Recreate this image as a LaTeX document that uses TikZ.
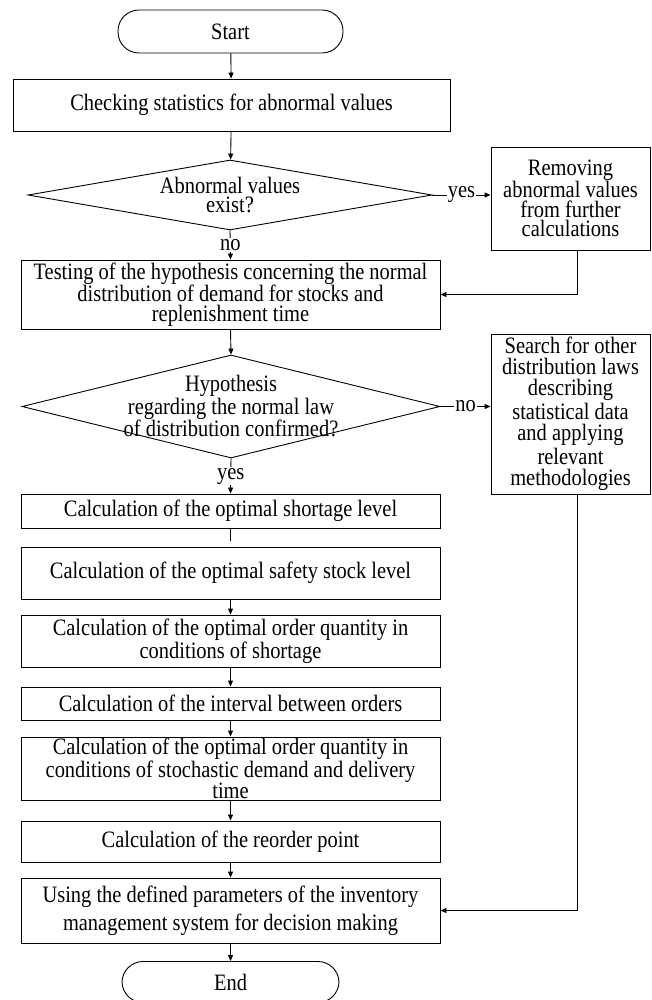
\documentclass[tikz,border=0pt]{standalone}
\usepackage{fontspec}
\setmainfont{Liberation Serif}[FakeStretch=0.87]
\usetikzlibrary{shapes.geometric,arrows.meta}
\begin{document}
\begin{tikzpicture}[x=1pt,y=-1pt,
  every node/.style={font=\fontsize{23.5}{19.5}\selectfont},
  box/.style={draw,line width=0.9pt,rectangle,inner sep=0pt,align=center,minimum width=419pt},
  term/.style={draw,line width=0.9pt,rectangle,rounded corners=21pt,minimum width=225pt,minimum height=43pt,inner sep=0pt},
  dec/.style={draw,line width=0.9pt,diamond,inner sep=0pt},
  txt/.style={align=center,inner sep=0pt},
  lbl/.style={fill=white,inner sep=1pt},
  conn/.style={line width=0.9pt},
  arr/.style={conn,-{Triangle[length=6pt,width=5pt]}}
]
\useasboundingbox (0,0) rectangle (651,1000);

\node[term] (start) at (230.5,31.5) {Start};
\node[box,minimum width=437pt,minimum height=52pt] (check) at (231.5,105) {Checking statistics for abnormal values};
\node[dec,minimum width=404pt,minimum height=70pt] (d1) at (230,195) {};
\node[txt] (d1t) at (d1) {Abnormal values\\exist?};
\node[box,minimum width=159pt,minimum height=103pt] (rem) at (570.5,198.5) {Removing\\abnormal values\\from further\\calculations};
\node[box,minimum height=69pt] (test) at (230.5,294.5) {Testing of the hypothesis concerning the normal\\distribution of demand for stocks and\\replenishment time};
\node[dec,minimum width=418pt,minimum height=103pt] (d2) at (231,406.5) {};
\node[txt] (d2t) at (d2) {Hypothesis\\regarding the normal law\\of distribution confirmed?};
\node[box,minimum width=159pt,minimum height=160pt] (search) at (570.5,414) {Search for other\\[1.5pt]distribution laws\\[1.5pt]describing\\[1.5pt]statistical data\\[1.5pt]and applying\\[1.5pt]relevant\\[1.5pt]methodologies};
\node[box,minimum height=34pt] (short) at (230.5,511) {Calculation of the optimal shortage level};
\coordinate (gap) at (230.5,541);
\node[box,minimum height=52pt] (safe) at (230.5,573) {Calculation of the optimal safety stock level};
\node[box,minimum height=52pt] (order) at (230.5,641) {Calculation of the optimal order quantity in\\conditions of shortage};
\node[box,minimum height=33pt] (int) at (230.5,703.5) {Calculation of the interval between orders};
\node[box,minimum height=63pt] (stoch) at (230.5,768.5) {Calculation of the optimal order quantity in\\conditions of stochastic demand and delivery\\time};
\node[box,minimum height=41pt] (reord) at (230.5,841.5) {Calculation of the reorder point};
\node[box,minimum height=65pt] (use) at (230.5,910.5) {Using the defined parameters of the inventory\\[5pt]management system for decision making};
\node[term,minimum width=217pt,minimum height=41pt] (end) at (230.5,982) {End};

\draw[arr] (start) -- (check);
\draw[arr] (check) -- (d1);
\draw[arr] (d1.east) -- node[lbl]{yes} (d1.east -| rem.west);
\draw[arr] (d1.south) -- node[lbl]{no} (test.north);
\draw[arr] ([xshift=6.5pt]rem.south) |- (test.east);
\draw[arr] (test.south) -- (d2.north);
\draw[arr] (d2.east) -- node[lbl]{no} (d2.east -| search.west);
\draw[arr] (d2.south) -- node[lbl]{yes} (short.north);
\draw[conn] (short.south) -- (gap);
\draw[arr] (safe) -- (order);
\draw[arr] (order) -- (int);
\draw[arr] (int) -- (stoch);
\draw[arr] (stoch) -- (reord);
\draw[arr] (reord) -- (use);
\draw[arr] ([xshift=6.5pt]search.south) |- (use.east);
\draw[arr] (use) -- (end);
\end{tikzpicture}
\end{document}
